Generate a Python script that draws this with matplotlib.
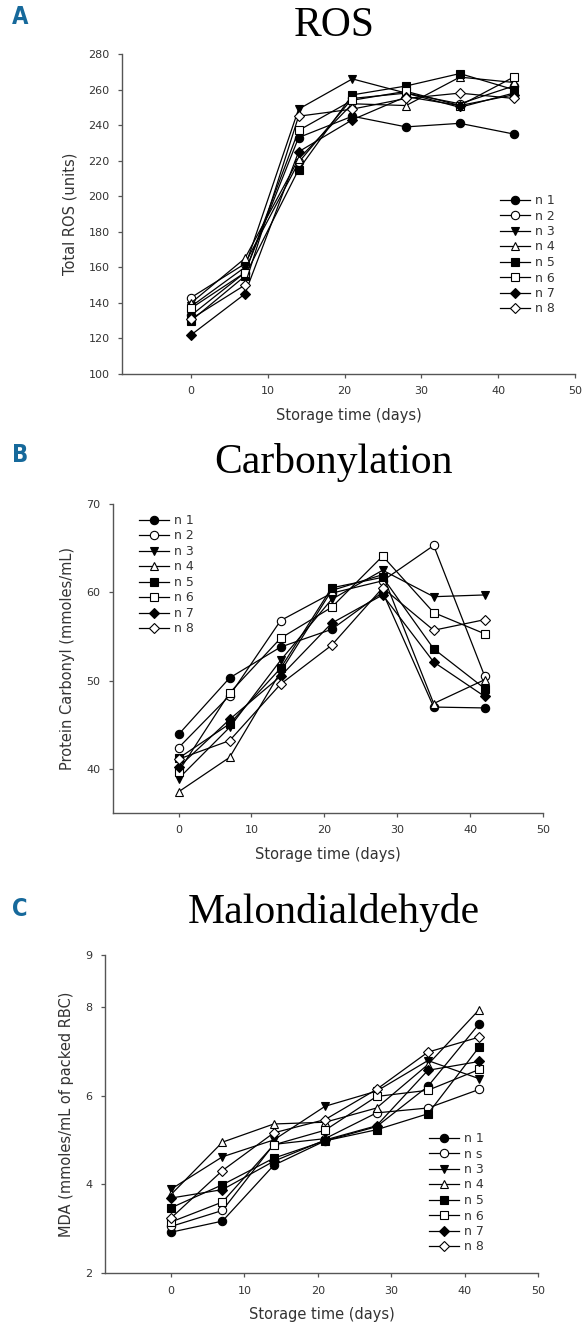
import numpy as np
import matplotlib
matplotlib.use("Agg")
import matplotlib.pyplot as plt

# storage days
days = [0, 7, 14, 21, 28, 35, 42]

# ROS (units)
ros = {
    "n 1": [133, 157, 233, 245, 239, 241, 235],
    "n 2": [143, 162, 219, 255, 258, 252, 262],
    "n 3": [138, 160, 249, 266, 258, 250, 258],
    "n 4": [140, 165, 221, 252, 251, 267, 264],
    "n 5": [130, 155, 215, 257, 262, 269, 260],
    "n 6": [137, 157, 237, 254, 259, 251, 267],
    "n 7": [122, 145, 225, 243, 256, 251, 257],
    "n 8": [131, 150, 245, 249, 255, 258, 255],
}

# Protein carbonyl (mmoles/mL)
carb = {
    "n 1": [43.9, 50.3, 53.8, 55.8, 60.0, 47.0, 46.9],
    "n 2": [42.4, 48.3, 56.8, 59.9, 61.3, 65.3, 50.5],
    "n 3": [38.9, 44.7, 52.3, 59.2, 62.5, 59.5, 59.7],
    "n 4": [37.4, 41.3, 51.0, 60.2, 62.0, 47.4, 50.1],
    "n 5": [41.2, 45.1, 51.4, 60.5, 61.7, 53.6, 49.1],
    "n 6": [39.7, 48.6, 54.8, 58.3, 64.1, 57.7, 55.3],
    "n 7": [40.2, 45.6, 50.5, 56.5, 59.7, 52.1, 48.2],
    "n 8": [41.1, 43.2, 49.6, 54.0, 60.5, 55.7, 56.9],
}

# MDA (mmoles/mL of packed RBC)
mda = {
    "n 1": [2.92, 3.17, 4.43, 4.98, 5.30, 6.21, 7.62],
    "n s": [3.05, 3.41, 4.90, 5.03, 5.61, 5.72, 6.14],
    "n 3": [3.89, 4.62, 5.00, 5.76, 6.10, 6.79, 6.38],
    "n 4": [3.77, 4.95, 5.36, 5.40, 5.72, 6.70, 7.94],
    "n 5": [3.47, 3.99, 4.59, 4.98, 5.23, 5.59, 7.10],
    "n 6": [3.15, 3.60, 4.89, 5.22, 5.98, 6.12, 6.59],
    "n 7": [3.69, 3.88, 4.52, 5.00, 5.32, 6.57, 6.77],
    "n 8": [3.24, 4.31, 5.16, 5.46, 6.14, 6.98, 7.32],
}

markers = ["o", "o", "v", "^", "s", "s", "D", "D"]
fills = ["black", "white", "black", "white", "black", "white", "black", "white"]

W, H = 585, 1328
fig = plt.figure(figsize=(W / 100, H / 100), dpi=100)


def rect(l, r, t, b):
    return [l / W, 1 - b / H, (r - l) / W, (b - t) / H]


def panel(box, data, ylabel, yticks, ylim, leg_xy):
    ax = fig.add_axes(rect(*box))
    for (name, vals), m, fc in zip(data.items(), markers, fills):
        ms = 5.2 if m == "D" else 6
        ax.plot(days, vals, color="black", lw=0.9, marker=m, ms=ms,
                mfc=fc, mec="black", mew=0.8, label=name)
    ax.set_xlim(-9, 50)
    ax.set_xticks(range(0, 51, 10))
    ax.set_ylim(*ylim)
    ax.set_yticks(yticks)
    for s in ["top", "right"]:
        ax.spines[s].set_visible(False)
    for s in ["left", "bottom"]:
        ax.spines[s].set_color("#555555")
        ax.spines[s].set_linewidth(1.0)
    ax.tick_params(direction="out", length=3, width=0.9, color="#555555",
                   labelsize=8, labelcolor="#333333", pad=6)
    ax.set_xlabel("Storage time (days)", fontsize=10.5, color="#333333", labelpad=8)
    ax.set_ylabel(ylabel, fontsize=10.5, color="#333333", labelpad=8)
    ax.legend(loc="upper left", bbox_to_anchor=(leg_xy[0] / W, 1 - leg_xy[1] / H),
              bbox_transform=fig.transFigure, frameon=False, fontsize=9,
              handlelength=2.4, handletextpad=0.4, labelspacing=0.2,
              borderpad=0, borderaxespad=0, labelcolor="#333333")
    return ax


axA = panel((122, 575, 54, 374), ros, "Total ROS (units)",
            range(100, 281, 20), (100, 280), (500, 194))
axB = panel((113, 543, 504, 813), carb, "Protein Carbonyl (mmoles/mL)",
            [40, 50, 60, 70], (35, 70), (139, 514))

axC = fig.add_axes(rect(105, 538, 955, 1273))
fig.delaxes(axC)


# MDA axis: top segment 8-9 is drawn stretched in the original
def fwd(v):
    v = np.asarray(v, float)
    return np.where(v <= 8, v, 8 + (v - 8) * 1.17)


def inv(u):
    u = np.asarray(u, float)
    return np.where(u <= 8, u, 8 + (u - 8) / 1.17)


axC = panel((105, 538, 955, 1273), mda, "MDA (mmoles/mL of packed RBC)",
            [2, 4, 6, 8, 9], (2, 9), (429, 1132))
axC.set_yscale("function", functions=(fwd, inv))
axC.set_ylim(2, 9)
axC.set_yticks([2, 4, 6, 8, 9])
axC.set_yticklabels(["2", "4", "6", "8", "9"])
axC.minorticks_off()

# titles
for txt, y in [("ROS", 26), ("Carbonylation", 463), ("Malondialdehyde", 913)]:
    fig.text(334 / W, 1 - y / H, txt, fontsize=30, family="Liberation Serif",
             ha="center", va="center")

# panel letters
for txt, y in [("A", 17), ("B", 455), ("C", 909)]:
    fig.text(20 / W, 1 - y / H, txt, fontsize=17, weight="bold",
             family="DejaVu Sans", stretch="condensed", color="#16699b",
             ha="center", va="center")

fig.savefig("out.png", dpi=100)
